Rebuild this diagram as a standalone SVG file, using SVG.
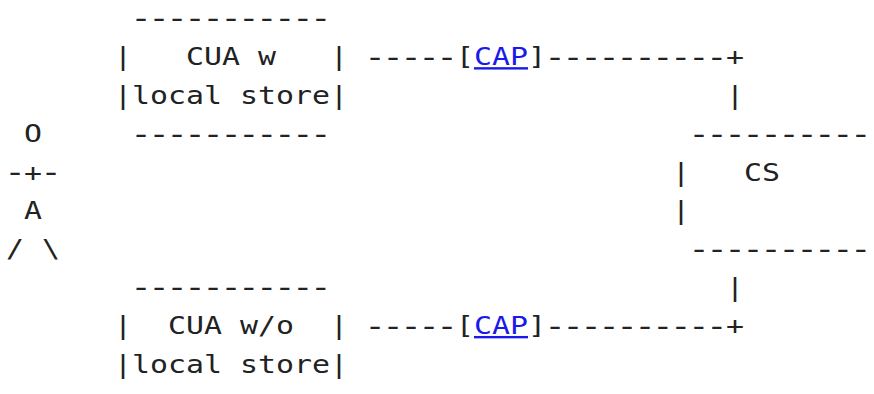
<svg xmlns="http://www.w3.org/2000/svg" width="874" height="394" viewBox="0 0 874 394">
<style>
text{font-family:"DejaVu Sans Mono","Liberation Mono",monospace;font-size:24px;fill:#222;white-space:pre}
text.d{font-size:28.8px;letter-spacing:-2.89px}
.link{fill:#1a1ae8;text-decoration:underline}
</style>
<rect width="874" height="394" fill="#fff"/>
<g transform="scale(1.24576 1)">
<g id="cua-w">
<text class="d" x="104.51" y="28.4">-----------</text>
<text x="91.51" y="65.4">|   CUA w   |</text>
<text x="91.51" y="103.8">|local store|</text>
<text class="d" x="104.51" y="143.6">-----------</text>
</g>
<g id="actor">
<text x="19.27" y="142.2">O</text>
<text class="d" x="3.37" y="182">-</text>
<text x="19.27" y="180.6">+</text>
<text class="d" x="32.26" y="182">-</text>
<text x="19.27" y="219">A</text>
<text x="4.82" y="257.4">/ \</text>
</g>
<g id="cs">
<text class="d" x="552.43" y="143.6">----------</text>
<text x="539.43" y="180.6">|</text>
<text x="597.23" y="180.6">CS</text>
<text x="539.43" y="219">|</text>
<text class="d" x="552.43" y="258.8">----------</text>
</g>
<g id="cua-wo">
<text class="d" x="104.51" y="297.2">-----------</text>
<text x="91.51" y="334.2">|  CUA w/o  |</text>
<text x="91.51" y="372.6">|local store|</text>
</g>
<g id="connectors">
<text class="d" x="292.35" y="66.8">-----</text>
<text x="366.04" y="65.4">[</text>
<text x="380.49" y="65.4" class="link">CAP</text>
<text x="423.84" y="65.4">]</text>
<text class="d" x="436.84" y="66.8">----------</text>
<text x="582.78" y="65.4">+</text>
<text x="582.78" y="103.8">|</text>
<text x="582.78" y="295.8">|</text>
<text class="d" x="292.35" y="335.6">-----</text>
<text x="366.04" y="334.2">[</text>
<text x="380.49" y="334.2" class="link">CAP</text>
<text x="423.84" y="334.2">]</text>
<text class="d" x="436.84" y="335.6">----------</text>
<text x="582.78" y="334.2">+</text>
</g>
</g>
</svg>
